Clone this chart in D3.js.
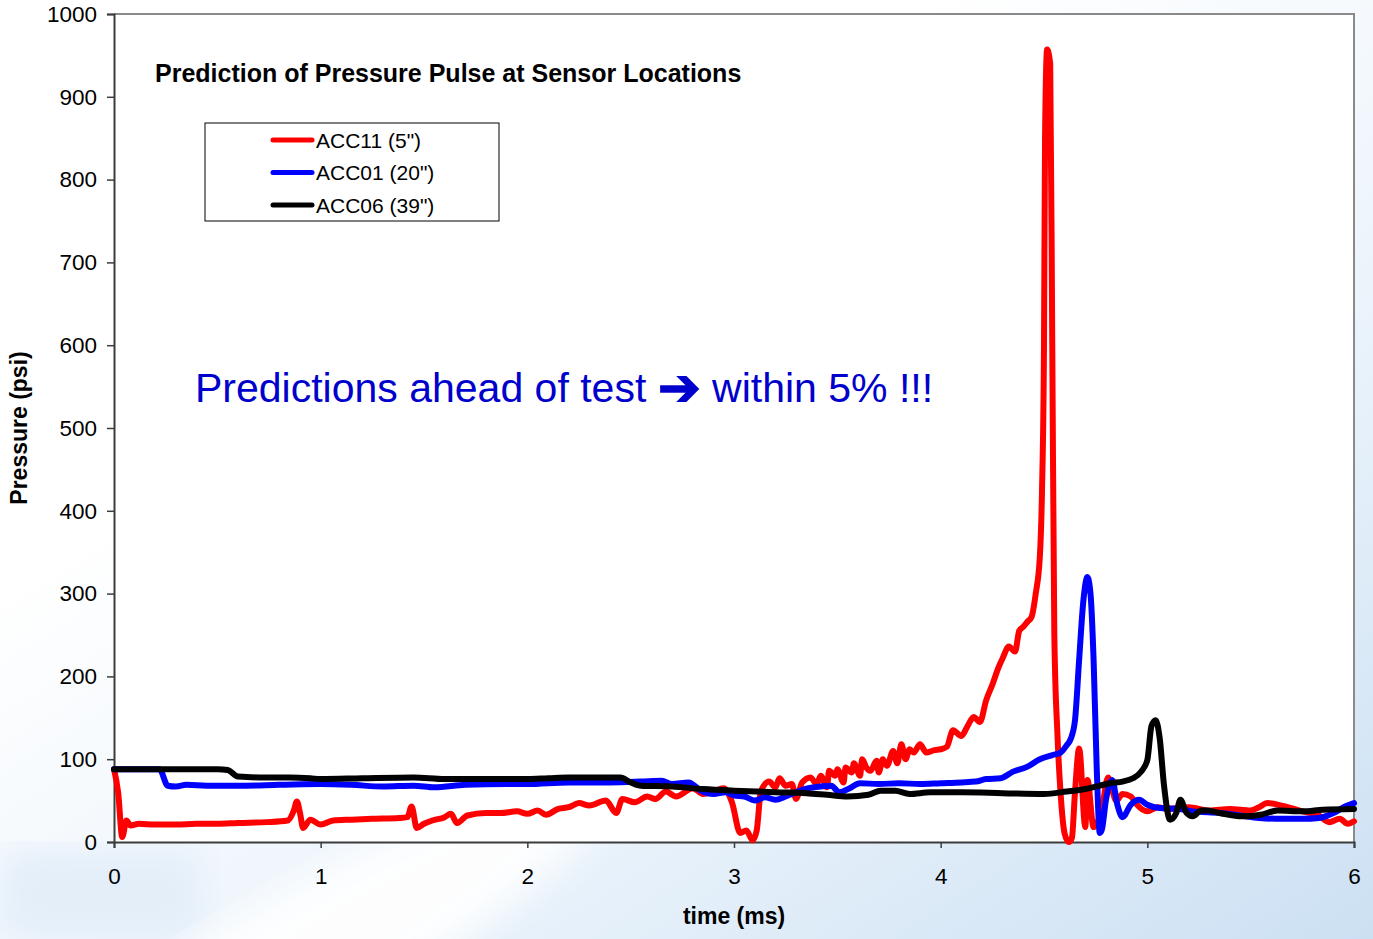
<!DOCTYPE html>
<html>
<head>
<meta charset="utf-8">
<script src="https://cdn.jsdelivr.net/npm/d3@7"></script>
<style>
  body { margin: 0; background: #fff; }
  svg { display: block; font-family: Arial, "Liberation Sans", sans-serif; }
</style>
</head>
<body>
<svg width="1373" height="939"></svg>
<script>
/*global d3*/

// ACC11 (5")
var acc11Time = [0,0.02,0.04,0.06,0.08,0.12,0.2,0.3,0.4,0.5,0.6,0.74,0.84,0.87,0.885,0.9,0.915,0.95,1.0,1.06,1.15,1.25,1.38,1.42,1.44,1.465,1.5,1.54,1.6,1.63,1.66,1.71,1.8,1.87,1.95,2.0,2.05,2.09,2.15,2.2,2.25,2.3,2.38,2.43,2.46,2.52,2.58,2.62,2.67,2.72,2.8,2.85,2.9,2.95,2.99,3.03,3.06,3.09,3.11,3.13,3.17,3.2,3.22,3.25,3.28,3.3,3.33,3.37,3.4,3.42,3.45,3.46,3.49,3.5,3.53,3.54,3.57,3.58,3.61,3.62,3.64,3.66,3.69,3.7,3.72,3.74,3.77,3.79,3.81,3.83,3.85,3.87,3.9,3.93,3.97,4.0,4.03,4.06,4.1,4.13,4.16,4.19,4.22,4.25,4.28,4.3,4.33,4.36,4.38,4.4,4.42,4.44,4.46,4.48,4.49,4.5,4.505,4.515,4.53,4.54,4.55,4.565,4.58,4.6,4.62,4.635,4.65,4.67,4.7,4.71,4.74,4.78,4.81,4.85,4.88,4.92,4.95,5.0,5.05,5.1,5.2,5.3,5.4,5.5,5.54,5.58,5.65,5.75,5.83,5.88,5.93,5.97,6.0];
var acc11 = [88,60,6,26,20,22,21,21,22,22,23,24,26,38,49,35,17,27,21,26,27,28,29,30,43,17,22,26,30,34,23,32,35,35,37,34,38,33,40,42,47,44,50,35,52,48,55,52,61,55,65,58,61,65,48,11,14,2,14,61,73,66,77,68,70,52,72,78,70,80,66,86,80,88,72,90,84,95,80,100,90,86,98,84,100,92,110,95,118,100,112,108,118,108,111,112,115,135,128,140,151,145,171,190,211,222,236,230,255,260,266,272,300,345,420,600,850,957,940,600,250,130,60,10,0,5,60,113,18,75,18,40,78,50,58,55,45,37,42,40,42,38,40,38,42,47,44,37,32,24,28,22,25,33];

// ACC01 (20")
var acc01Time = [0,0.22,0.26,0.3,0.35,0.45,0.6,0.8,1.0,1.15,1.3,1.45,1.55,1.7,1.9,2.0,2.2,2.4,2.55,2.65,2.7,2.78,2.84,2.9,2.96,3.0,3.05,3.1,3.15,3.2,3.25,3.3,3.36,3.42,3.47,3.51,3.56,3.61,3.7,3.8,3.9,4.0,4.1,4.17,4.22,4.29,4.35,4.42,4.48,4.54,4.58,4.61,4.63,4.65,4.67,4.69,4.71,4.725,4.74,4.755,4.77,4.78,4.8,4.83,4.855,4.88,4.92,4.96,5.0,5.06,5.15,5.22,5.35,5.45,5.54,5.65,5.75,5.83,5.9,5.95,6.0];
var acc01 = [88,88,68,67,69,68,68,69,70,69,67,68,66,69,70,70,72,72,73,74,70,72,62,58,60,56,55,50,54,51,55,60,65,67,68,60,65,71,70,71,70,71,72,73,76,77,85,91,100,105,108,117,125,147,220,290,320,300,220,90,11,15,51,75,45,30,45,51,45,41,40,37,35,32,29,28,28,29,35,42,47];

// ACC06 (39")
var acc06Time = [0,0.5,0.55,0.6,0.7,0.85,0.95,1.0,1.2,1.45,1.6,1.8,2.0,2.1,2.2,2.45,2.5,2.55,2.7,2.85,3.0,3.2,3.35,3.45,3.55,3.65,3.71,3.78,3.85,3.95,4.1,4.3,4.5,4.61,4.7,4.77,4.82,4.88,4.93,4.97,5.0,5.02,5.04,5.06,5.08,5.11,5.14,5.16,5.19,5.22,5.26,5.29,5.35,5.46,5.55,5.63,5.75,5.85,6.0];
var acc06 = [88,88,87,79,78,78,77,76,77,78,76,76,76,77,78,78,72,68,67,64,62,60,59,57,55,57,62,62,58,60,60,59,58,61,64,68,71,73,77,85,99,140,147,125,70,27,35,51,35,31,38,38,35,31,33,38,37,39,40];

var seriesNames = ["ACC11 (5\")", "ACC01 (20\")", "ACC06 (39\")"];
var seriesColors = ["#ff0000", "#0000ff", "#000000"];
var xTicks = [0, 1, 2, 3, 4, 5, 6];
var yTicks = [0, 100, 200, 300, 400, 500, 600, 700, 800, 900, 1000];

var svg = d3.select("svg");
var W = +svg.attr("width"), H = +svg.attr("height");
var plot = {left: 114, right: 1354, top: 14, bottom: 842};

// background swoosh
var defs = svg.append("defs");
var bg = defs.append("linearGradient").attr("id", "bg")
    .attr("x1", "0.35").attr("y1", "0.3").attr("x2", "1").attr("y2", "1");
bg.append("stop").attr("offset", "0").attr("stop-color", "#ffffff");
bg.append("stop").attr("offset", "0.5").attr("stop-color", "#eaf3fb");
bg.append("stop").attr("offset", "1").attr("stop-color", "#cce0f3");
defs.append("filter").attr("id", "blur").append("feGaussianBlur").attr("stdDeviation", 18);

svg.append("rect").attr("width", W).attr("height", H).attr("fill", "url(#bg)");
svg.append("rect").attr("x", 0).attr("y", 850).attr("width", 200).attr("height", 89)
    .attr("fill", "#e3eef9").attr("filter", "url(#blur)");
svg.append("ellipse")
    .attr("cx", 300).attr("cy", 960).attr("rx", 360).attr("ry", 70)
    .attr("transform", "rotate(-30,300,960)")
    .attr("fill", "#ffffff").attr("opacity", 0.9)
    .attr("filter", "url(#blur)");

var x = d3.scaleLinear().domain([0, 6]).range([plot.left, plot.right]);
var y = d3.scaleLinear().domain([0, 1000]).range([plot.bottom, plot.top]);

svg.append("rect")
    .attr("x", plot.left).attr("y", plot.top)
    .attr("width", plot.right - plot.left).attr("height", plot.bottom - plot.top)
    .attr("fill", "#ffffff");

// top/right frame
svg.append("path")
    .attr("d", "M" + plot.left + "," + plot.top + "H" + plot.right + "V" + plot.bottom)
    .attr("fill", "none").attr("stroke", "#8a8a8a").attr("stroke-width", 2);

var yAxis = svg.append("g")
    .attr("transform", "translate(" + plot.left + ",0)")
    .call(d3.axisLeft(y).tickValues(yTicks).tickFormat(d3.format("d")).tickSize(7).tickPadding(10));
var xAxis = svg.append("g")
    .attr("transform", "translate(0," + plot.bottom + ")")
    .call(d3.axisBottom(x).tickValues(xTicks).tickFormat(d3.format("d")).tickSize(6).tickPadding(20));

[xAxis, yAxis].forEach(function(a) {
    a.select(".domain").attr("stroke", "#3c3c3c").attr("stroke-width", 2);
    a.selectAll(".tick line").attr("stroke", "#3c3c3c").attr("stroke-width", 1.5);
    a.selectAll(".tick text")
        .attr("font-family", "Arial, 'Liberation Sans', sans-serif")
        .attr("font-size", 22.5).attr("fill", "#000");
});
xAxis.selectAll(".tick text").attr("dy", "0.71em");

var line = d3.line()
    .x(function(d) { return x(d[0]); })
    .y(function(d) { return y(d[1]); })
    .curve(d3.curveMonotoneX);

var allSeries = [
    d3.zip(acc11Time, acc11),
    d3.zip(acc01Time, acc01),
    d3.zip(acc06Time, acc06)
];

svg.append("g").selectAll("path")
    .data(allSeries)
    .enter().append("path")
    .attr("d", line)
    .attr("fill", "none")
    .attr("stroke", function(d, i) { return seriesColors[i]; })
    .attr("stroke-width", 6)
    .attr("stroke-linejoin", "round")
    .attr("stroke-linecap", "round");

// titles
svg.append("text")
    .attr("x", 155).attr("y", 82)
    .attr("font-size", 25).attr("font-weight", "bold")
    .text("Prediction of Pressure Pulse at Sensor Locations");

svg.append("text")
    .attr("x", (plot.left + plot.right) / 2).attr("y", 924)
    .attr("text-anchor", "middle")
    .attr("font-size", 23).attr("font-weight", "bold")
    .text("time (ms)");

svg.append("text")
    .attr("transform", "translate(27," + ((plot.top + plot.bottom) / 2) + ") rotate(-90)")
    .attr("text-anchor", "middle")
    .attr("font-size", 23).attr("font-weight", "bold")
    .text("Pressure (psi)");

var note = svg.append("text")
    .attr("x", 195).attr("y", 402)
    .attr("font-size", 41).attr("fill", "#0000cc");
note.append("tspan").text("Predictions ahead of test ");
note.append("tspan").attr("font-size", 51).attr("font-weight", "bold").attr("dy", 3).text("\u2794");
note.append("tspan").attr("dy", -3).text(" within 5% !!!");

// legend
var legend = svg.append("g").attr("transform", "translate(205,123)");
legend.append("rect")
    .attr("width", 294).attr("height", 98)
    .attr("fill", "#fff").attr("stroke", "#000").attr("stroke-width", 1);
var item = legend.selectAll("g.item")
    .data(seriesNames)
    .enter().append("g").attr("class", "item")
    .attr("transform", function(d, i) { return "translate(0," + (17 + i * 32.5) + ")"; });
item.append("line")
    .attr("x1", 68).attr("x2", 107)
    .attr("stroke", function(d, i) { return seriesColors[i]; })
    .attr("stroke-width", 5).attr("stroke-linecap", "round");
item.append("text")
    .attr("x", 111).attr("dy", "0.36em")
    .attr("font-size", 21)
    .text(function(d) { return d; });
</script>
</body>
</html>
